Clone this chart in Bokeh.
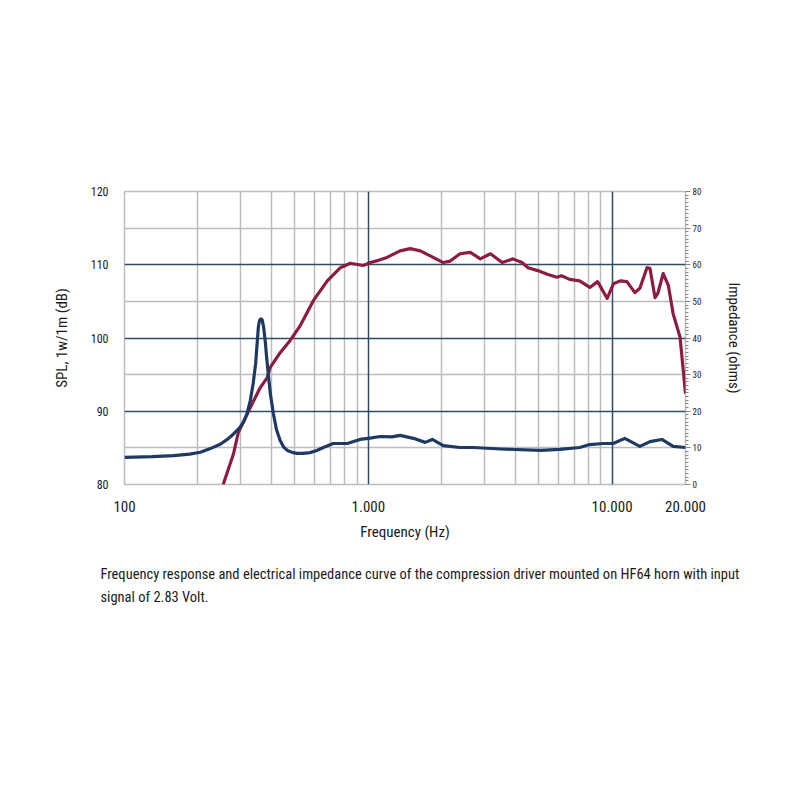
from bokeh.plotting import figure
from bokeh.models import (Range1d, LinearAxis, FixedTicker, SingleIntervalTicker,
                          Grid, Title)
from bokeh.embed import file_html
from bokeh.resources import INLINE

# ---------------- data ----------------
spl_freq = [254, 280, 293, 328, 360, 385, 396, 435, 479, 526, 595, 679, 768, 844,
            953, 1020, 1100, 1193, 1350, 1485, 1634, 1846, 2030, 2168, 2378, 2620,
            2880, 3170, 3540, 3920, 4270, 4520, 4950, 5420, 5930, 6200, 6700, 7360,
            8100, 8720, 9550, 10120, 10800, 11500, 12400, 13000, 13900, 14300, 15000,
            15400, 16200, 17000, 17800, 19000, 20000]
spl_db = [80.0, 84.2, 87.1, 90.5, 93.2, 94.6, 96.0, 98.0, 99.7, 101.7, 105.1, 107.8,
          109.6, 110.2, 109.9, 110.3, 110.6, 111.0, 111.9, 112.2, 111.9, 111.0, 110.3,
          110.5, 111.5, 111.7, 110.8, 111.5, 110.3, 110.8, 110.3, 109.6, 109.2, 108.7,
          108.3, 108.5, 108.0, 107.8, 106.9, 107.7, 105.4, 107.4, 107.8, 107.7, 106.2,
          106.8, 109.6, 109.5, 105.5, 106.1, 108.8, 107.2, 103.3, 100.1, 92.4]

imp_freq = [100, 130, 159, 185, 205, 225, 247, 265, 280, 295, 307, 318, 328, 337, 345,
            350, 354, 358, 362, 367, 372, 378, 383, 389, 397, 408, 420, 435, 450, 466,
            490, 511, 540, 577, 615, 654, 718, 820, 925, 1000, 1120, 1250, 1350, 1530,
            1712, 1830, 2030, 2378, 2700, 3485, 5080, 6100, 7360, 8100, 9200, 10100,
            11270, 13000, 14300, 16000, 17800, 20000]
imp_ohm = [7.4, 7.6, 7.9, 8.3, 8.8, 9.8, 11.0, 12.4, 13.8, 15.3, 16.9, 19.3, 22.9,
           27.5, 33.0, 38.5, 43.0, 44.8, 45.2, 45.0, 43.0, 39.0, 34.5, 30.0, 24.5, 19.4,
           15.0, 12.0, 10.2, 9.3, 8.7, 8.5, 8.5, 8.7, 9.3, 10.1, 11.2, 11.2, 12.3, 12.6,
           13.1, 13.0, 13.4, 12.6, 11.5, 12.3, 10.6, 10.1, 10.1, 9.7, 9.3, 9.6, 10.1,
           10.9, 11.2, 11.2, 12.6, 10.4, 11.7, 12.3, 10.4, 10.1]

x_ticks = [100, 1000, 10000, 20000]
x_tick_labels = ["100", "1.000", "10.000", "20.000"]
spl_ticks = [80, 90, 100, 110, 120]
x_minor_grid = [200, 300, 400, 500, 600, 700, 800, 900,
                2000, 3000, 4000, 5000, 6000, 7000, 8000, 9000]
x_major_grid = [1000, 10000]
y_minor_grid = [85, 95, 105, 115]
y_major_grid = [90, 100, 110]

caption_lines = [("Frequency response and electrical impedance curve of the compression "
                  "driver mounted on HF64 horn with input"),
                 "signal of 2.83 Volt."]

# ---------------- style ----------------
FONT = "Roboto Condensed, Liberation Sans Narrow, DejaVu Sans Condensed, sans-serif"
RED = "#8c1d40"
BLUE = "#1e3a63"
DARK_GRID = "#2e4b68"
GREY = "#bdbdbd"
TXT = "#1a1a1a"

p = figure(width=800, height=800, x_axis_type="log",
           x_range=Range1d(100, 20000), y_range=Range1d(80, 120),
           output_backend="svg", toolbar_location=None,
           min_border_left=124, min_border_right=115,
           min_border_top=191, min_border_bottom=316)
p.background_fill_color = "white"
p.border_fill_color = "white"
p.outline_line_color = GREY
p.outline_line_width = 1.5
p.grid.visible = False

p.extra_y_ranges = {"imp": Range1d(0, 80)}

# grids
p.add_layout(Grid(dimension=0, ticker=FixedTicker(ticks=x_minor_grid),
                  grid_line_color=GREY, grid_line_width=1.5))
p.add_layout(Grid(dimension=1, ticker=FixedTicker(ticks=y_minor_grid),
                  grid_line_color=GREY, grid_line_width=1.5))
p.add_layout(Grid(dimension=0, ticker=FixedTicker(ticks=x_major_grid),
                  grid_line_color=DARK_GRID, grid_line_width=1.5))
p.add_layout(Grid(dimension=1, ticker=FixedTicker(ticks=y_major_grid),
                  grid_line_color=DARK_GRID, grid_line_width=1.5))

# curves
p.line(spl_freq, spl_db, line_color=RED, line_width=3.2, line_join="round")
p.line(imp_freq, imp_ohm, y_range_name="imp", line_color=BLUE, line_width=3.2,
       line_join="round")

# x axis
xa = p.xaxis[0]
xa.ticker = FixedTicker(ticks=x_ticks)
xa.major_label_overrides = {t: l for t, l in zip(x_ticks, x_tick_labels)}
xa.axis_line_color = None
xa.major_tick_line_color = None
xa.minor_tick_line_color = None
xa.major_label_standoff = 10
xa.major_label_text_font = FONT
xa.major_label_text_font_size = "15px"
xa.major_label_text_color = TXT
xa.axis_label = "Frequency (Hz)"
xa.axis_label_text_font = FONT
xa.axis_label_text_font_size = "15px"
xa.axis_label_text_font_style = "normal"
xa.axis_label_text_color = TXT
xa.axis_label_standoff = 8

# left axis
ya = p.yaxis[0]
ya.ticker = FixedTicker(ticks=spl_ticks)
ya.axis_line_color = None
ya.major_tick_line_color = None
ya.minor_tick_line_color = None
ya.major_label_standoff = 10
ya.major_label_text_font = FONT
ya.major_label_text_font_size = "12px"
ya.major_label_text_color = TXT
ya.axis_label = "SPL, 1w/1m (dB)"
ya.axis_label_text_font = FONT
ya.axis_label_text_font_size = "15px"
ya.axis_label_text_font_style = "normal"
ya.axis_label_text_color = TXT
ya.axis_label_standoff = 17

# right axis
ra = LinearAxis(y_range_name="imp",
                ticker=SingleIntervalTicker(interval=10, num_minor_ticks=10))
ra.axis_line_color = None
ra.major_tick_in = 0
ra.major_tick_out = 5
ra.minor_tick_in = 0
ra.minor_tick_out = 3
ra.major_tick_line_color = "#888888"
ra.minor_tick_line_color = "#888888"
ra.major_label_standoff = 2
ra.major_label_text_font = FONT
ra.major_label_text_font_size = "9px"
ra.major_label_text_color = TXT
ra.axis_label = "Impedance (ohms)"
ra.axis_label_text_font = FONT
ra.axis_label_text_font_size = "15px"
ra.axis_label_text_font_style = "normal"
ra.axis_label_text_color = TXT
ra.axis_label_standoff = 21
p.add_layout(ra, "right")

# caption (two lines below the x axis)
p.add_layout(Title(text="\n".join(caption_lines), align="left", offset=-24,
                   text_font=FONT, text_font_size="14.5px",
                   text_font_style="normal", text_color=TXT,
                   text_line_height=1.38, standoff=41), "below")

open("out.html", "w").write(file_html(p, INLINE))
